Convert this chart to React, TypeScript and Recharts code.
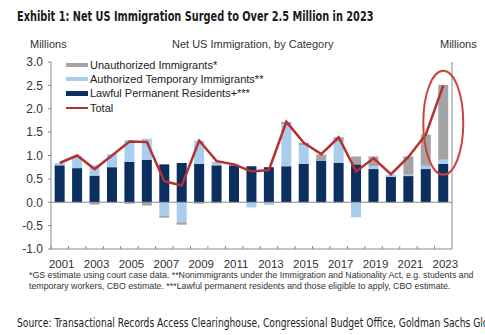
import React from 'react'
import {
    ComposedChart,
    Bar,
    Line,
    XAxis,
    YAxis,
    ReferenceLine,
    ReferenceDot,
} from 'recharts'

// values in millions
const years = ['2001', '2002', '2003', '2004', '2005', '2006', '2007', '2008', '2009', '2010', '2011', '2012',
    '2013', '2014', '2015', '2016', '2017', '2018', '2019', '2020', '2021', '2022', '2023']
const lawful = [0.79, 0.73, 0.57, 0.75, 0.86, 0.91, 0.81, 0.84, 0.82, 0.79, 0.79, 0.77,
    0.75, 0.77, 0.82, 0.89, 0.84, 0.81, 0.71, 0.54, 0.56, 0.71, 0.82]
const authorized = [0.05, 0.26, 0.22, 0.28, 0.47, 0.45, -0.29, -0.43, 0.5, 0.08, 0.03, -0.11,
    -0.06, 0.9, 0.4, 0, 0.45, -0.32, 0.06, 0.05, 0.03, 0.07, 0.09]
const unauthorized = [0, 0, -0.05, 0, -0.03, -0.07, -0.04, -0.05, -0.03, -0.02, 0, 0,
    0, 0.05, 0.05, 0.13, 0.1, 0.17, 0.21, 0, 0.39, 0.67, 1.6]
const total = [0.84, 1.0, 0.71, 1.0, 1.3, 1.29, 0.45, 0.36, 1.32, 0.88, 0.81, 0.66,
    0.69, 1.72, 1.27, 1.03, 1.39, 0.66, 0.94, 0.6, 0.97, 1.45, 2.5]
const yTicks = [-1, -0.5, 0, 0.5, 1, 1.5, 2, 2.5, 3]

const data = years.map((year, i) => ({
    year,
    lawful: lawful[i],
    authorized: authorized[i],
    unauthorized: unauthorized[i],
    total: total[i],
}))

const NAVY = '#0b2f5e'
const LIGHT = '#a9cdec'
const GRAY = '#a4a4a4'
const RED = '#b5302f'
const AXIS = '#8a8a8a'
const FONT = '"Liberation Sans", Arial, sans-serif'
const NARROW = '"DejaVu Sans Condensed", sans-serif'

const legendItems = [
    { label: 'Unauthorized Immigrants*', color: GRAY, h: 4 },
    { label: 'Authorized Temporary Immigrants**', color: LIGHT, h: 4 },
    { label: 'Lawful Permanent Residents+***', color: NAVY, h: 5 },
    { label: 'Total', color: RED, h: 2 },
]

const YearTick = (props: any) => {
    const { x, y, payload, index } = props
    const half = payload && payload.offset ? payload.offset : 8.7
    return (
        <g>
            <line x1={x - half} x2={x - half} y1={y} y2={y - 3} stroke={AXIS} />
            {index % 2 === 0 && (
                <text x={x + 2} y={y + 19} textAnchor="middle" fontSize={11.5} fill="#333" fontFamily={FONT}>
                    {payload.value}
                </text>
            )}
        </g>
    )
}

const Ellipse = (props: any) => (
    <ellipse cx={props.cx} cy={props.cy} rx={20} ry={52} fill="none" stroke="#d0413d" strokeWidth={2} />
)

export default function App() {
    return (
        <div style={{ position: 'absolute', left: 0, top: 0, width: 485, height: 335, background: '#fff', overflow: 'hidden', fontFamily: FONT }}>
            <div style={{ position: 'absolute', left: 17, top: 8, fontFamily: NARROW, fontWeight: 700, fontSize: 14, color: '#1a1a1a', whiteSpace: 'nowrap', transform: 'scaleX(0.775)', transformOrigin: 'left top' }}>
                Exhibit 1: Net US Immigration Surged to Over 2.5 Million in 2023
            </div>
            <div style={{ position: 'absolute', left: 30, top: 38, fontSize: 11, color: '#333' }}>Millions</div>
            <div style={{ position: 'absolute', left: 172, top: 38, fontSize: 11, color: '#333' }}>Net US Immigration, by Category</div>
            <div style={{ position: 'absolute', left: 440, top: 38, fontSize: 11, color: '#333' }}>Millions</div>

            <ComposedChart
                width={485}
                height={335}
                data={data}
                stackOffset="sign"
                barCategoryGap="21%"
                margin={{ top: 62, right: 0, bottom: 66, left: 0 }}
            >
                <XAxis
                    dataKey="year"
                    interval={0}
                    tickLine={false}
                    tickSize={0}
                    tickMargin={0}
                    height={20}
                    stroke={AXIS}
                    tick={<YearTick />}
                />
                <YAxis
                    yAxisId="left"
                    domain={[-1, 3]}
                    ticks={yTicks}
                    width={51}
                    tickSize={3}
                    tickMargin={5}
                    stroke={AXIS}
                    tick={{ fill: '#333', fontSize: 12, fontFamily: FONT }}
                    tickFormatter={(v) => v.toFixed(1)}
                />
                <YAxis
                    yAxisId="right"
                    orientation="right"
                    domain={[-1, 3]}
                    ticks={yTicks}
                    width={33}
                    tickSize={3}
                    tickMargin={3}
                    stroke={AXIS}
                    tick={{ fill: '#333', fontSize: 12, fontFamily: FONT }}
                    tickFormatter={(v) => v.toFixed(1)}
                />
                <ReferenceLine yAxisId="left" y={0} stroke={AXIS} />
                <Bar yAxisId="left" dataKey="lawful" stackId="a" fill={NAVY} isAnimationActive={false} />
                <Bar yAxisId="left" dataKey="authorized" stackId="a" fill={LIGHT} isAnimationActive={false} />
                <Bar yAxisId="left" dataKey="unauthorized" stackId="a" fill={GRAY} isAnimationActive={false} />
                <Line
                    yAxisId="left"
                    type="linear"
                    dataKey="total"
                    stroke={RED}
                    strokeWidth={2.5}
                    dot={false}
                    isAnimationActive={false}
                />
                <ReferenceDot yAxisId="left" x="2023" y={1.7} r={20} shape={<Ellipse />} />
            </ComposedChart>

            <div style={{ position: 'absolute', left: 66, top: 58 }}>
                {legendItems.map((item) => (
                    <div key={item.label} style={{ display: 'flex', alignItems: 'center', height: 14.2 }}>
                        <span style={{ display: 'inline-block', width: 22, height: item.h, background: item.color, marginRight: 2 }} />
                        <span style={{ fontSize: 11, color: '#222', whiteSpace: 'nowrap' }}>{item.label}</span>
                    </div>
                ))}
            </div>

            <div style={{ position: 'absolute', left: 29, top: 270, fontSize: 8.8, lineHeight: '11px', color: '#333', whiteSpace: 'nowrap' }}>
                <div>*GS estimate using court case data. **Nonimmigrants under the Immigration and Nationality Act, e.g. students and</div>
                <div>temporary workers, CBO estimate. ***Lawful permanent residents and those eligible to apply, CBO estimate.</div>
            </div>
            <div style={{ position: 'absolute', left: 17, top: 315, fontFamily: NARROW, fontSize: 12.5, color: '#222', whiteSpace: 'nowrap', transform: 'scaleX(0.815)', transformOrigin: 'left top' }}>
                Source: Transactional Records Access Clearinghouse, Congressional Budget Office, Goldman Sachs Global Investment Research
            </div>
        </div>
    )
}
